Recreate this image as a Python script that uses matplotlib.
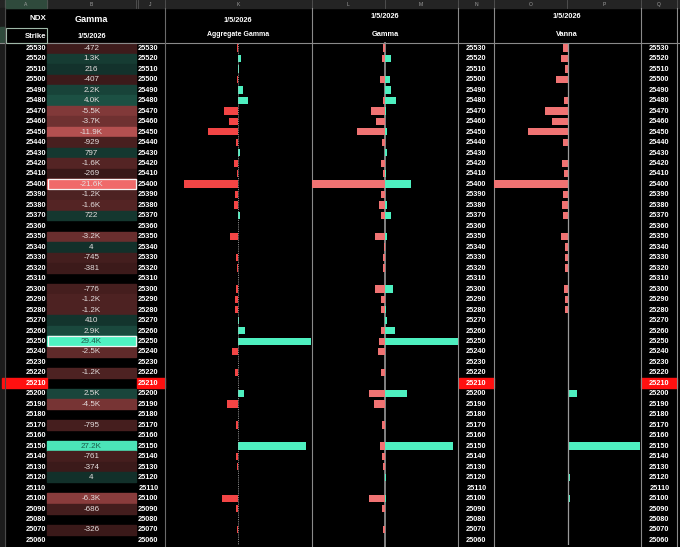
import numpy as np
import matplotlib.pyplot as plt
import matplotlib.colors as mcolors
from matplotlib.patches import Rectangle

plt.rcParams['font.family'] = ['Liberation Sans', 'DejaVu Sans']

# strikes, top to bottom
strikes = [25530, 25520, 25510, 25500, 25490, 25480, 25470, 25460, 25450, 25440,
           25430, 25420, 25410, 25400, 25390, 25380, 25370, 25360, 25350, 25340,
           25330, 25320, 25310, 25300, 25290, 25280, 25270, 25260, 25250, 25240,
           25230, 25220, 25210, 25200, 25190, 25180, 25170, 25160, 25150, 25140,
           25130, 25120, 25110, 25100, 25090, 25080, 25070, 25060]
spot = 25210
date_label = '1/5/2026'
nan = np.nan

# aggregate gamma (column B and the K bars)
gamma = [-472, 1300, 216, -407, 2200, 4000, -5500, -3700, -11900, -929,
         797, -1600, -269, -21600, -1200, -1600, 722, nan, -3200, 4,
         -745, -381, nan, -776, -1200, -1200, 410, 2900, 29400, -2500,
         nan, -1200, nan, 2500, -4500, nan, -795, nan, 27200, -761,
         -374, 4, nan, -6300, -686, nan, -326, nan]

# put / call gamma in K (L and M columns)
put_gamma = [-0.7, -1.1, 0, -2.2, 0, -0.7, -6.0, -3.8, -12.8, -1.1,
             0, -1.8, -0.9, -33.3, -1.8, -2.5, -1.8, 0, -4.3, -0.2,
             -0.9, -0.5, 0, -4.3, -1.5, -1.8, 0, -1.5, -2.5, -2.8,
             0, -1.5, 0, -7.3, -4.6, 0, -1.1, 0, -2.2, -1.1,
             -0.5, 0, 0, -6.9, -1.1, 0, -0.5, 0]
call_gamma = [0, 2.8, 0.4, 2.2, 2.8, 4.9, 0.6, 0, 0.9, 0,
              0.9, 0.4, 0.7, 11.7, 0.4, 0.9, 2.8, 0, 0.9, 0.3,
              0, 0, 0, 3.6, 0, 0.6, 0.9, 4.7, 31.9, 0,
              0, 0, 0, 9.9, 0, 0, 0, 0, 29.7, 0,
              0, 0.8, 0, 0.7, 0, 0, 0, 0]

vanna = [-1.2, -1.5, -0.5, -2.9, 0, -0.8, -5.5, -3.8, -9.9, -1.1,
         0, -1.3, -0.8, -18.3, -1.1, -1.3, -1.1, 0, -1.7, -0.5,
         -0.5, -0.5, 0, -0.9, -0.5, -0.5, 0, 0, 0, 0,
         0, 0, 0, 2.3, 0, 0, 0, 0, 18.1, 0,
         0, 0.5, 0, 0.6, 0, 0, 0, 0]

W, H = 680, 547
TOP, RH = 42.8, 10.47
n = len(strikes)
BOT = TOP + n * RH

RED = '#F24545'
SALMON = '#F07373'
GREEN = '#4EF0C0'
GRID = '#8a8a8a'

fig = plt.figure(figsize=(W / 100, H / 100), dpi=100, facecolor='black')
sheet = fig.add_axes([0, 0, 1, 1])
sheet.set_xlim(0, W)
sheet.set_ylim(H, 0)
sheet.axis('off')
sheet.set_facecolor('black')


def row_y(i):
    return TOP + (i + 0.5) * RH


# column letter band
sheet.add_patch(Rectangle((0, 0), W, 8, color='#242424', zorder=1))
sheet.add_patch(Rectangle((5, 0), 42, 8, color='#2f4a3c', zorder=1))
for x in [5, 47, 136, 138, 165, 312, 385, 458, 494, 567, 641, 677]:
    sheet.plot([x, x], [0, 8], color='#555555', lw=0.6, zorder=2)
col_letters = [('A', 26), ('B', 91), ('J', 150), ('K', 238), ('L', 348),
               ('M', 421), ('N', 476), ('O', 531), ('P', 604), ('Q', 659)]
for letter, xc in col_letters:
    sheet.text(xc, 4.3, letter, color='#a0a0a0', fontsize=3.6, ha='center', va='center', zorder=3)

# row header strip
sheet.add_patch(Rectangle((0, 8), 5, H - 8, color='#1c1c1c', zorder=1))
sheet.add_patch(Rectangle((0, 27), 5, 15, color='#2f4a3c', zorder=1))

# header texts
hdr = dict(color='white', fontweight='bold', va='center', zorder=4)
sheet.text(46, 19, 'NDX', ha='right', fontsize=5.8, **hdr)
sheet.text(46, 36.5, 'Strike', ha='right', fontsize=5.6, **hdr)
sheet.add_patch(Rectangle((5.5, 27.5), 41.5, 15, fill=False, ec='#9fb8a8', lw=0.8, zorder=4))
sheet.text(91.5, 19, 'Gamma', ha='center', fontsize=6.6, **hdr)
sheet.text(91.5, 36.5, date_label, ha='center', fontsize=5.3, **hdr)
sheet.text(238, 20, date_label, ha='center', fontsize=5.3, **hdr)
sheet.text(238, 34, 'Aggregate Gamma', ha='center', fontsize=5.0, **hdr)
sheet.text(385, 16, date_label, ha='center', fontsize=5.3, **hdr)
sheet.text(385, 34, 'Gamma', ha='center', fontsize=5.3, **hdr)
sheet.text(567, 16, date_label, ha='center', fontsize=5.3, **hdr)
sheet.text(567, 34, 'Vanna', ha='center', fontsize=5.3, **hdr)

# grid lines
sheet.plot([0, W], [42.5, 42.5], color=GRID, lw=0.8, zorder=3)
for x, c in [(5, '#4a4a4a'), (165, '#6a6a6a'), (312, GRID), (458, GRID),
             (494, GRID), (641, GRID), (677, GRID)]:
    sheet.plot([x, x], [8, H], color=c, lw=0.8, zorder=3)

# gamma heat cells
vals = np.array(gamma, dtype=float)
gmin, gmax = np.nanmin(vals), np.nanmax(vals)
neg0, neg1 = np.array(mcolors.to_rgb('#2a1212')), np.array(mcolors.to_rgb('#F06a6a'))
pos0, pos1 = np.array(mcolors.to_rgb('#12302a')), np.array(mcolors.to_rgb('#4ff2c2'))


def fmt(v):
    if abs(v) >= 1000:
        return f'{v / 1000:.1f}K'
    return f'{int(v)}'


for i, v in enumerate(vals):
    if np.isnan(v):
        continue
    if v < 0:
        t = (v / gmin) ** 0.6
        c = neg0 + (neg1 - neg0) * t
    else:
        t = (v / gmax) ** 0.9
        c = pos0 + (pos1 - pos0) * t
    sheet.add_patch(Rectangle((47, TOP + i * RH + 0.3), 89, RH - 0.6, color=c, zorder=2))
    lum = 0.3 * c[0] + 0.59 * c[1] + 0.11 * c[2]
    tc = '#1c5a4a' if (lum > 0.6 and v > 0) else '#e4dede'
    sheet.text(91.5, row_y(i) + 0.3, fmt(v), color=tc, fontsize=5.8,
               ha='center', va='center', zorder=4)
    if v == gmin or v == gmax:
        sheet.add_patch(Rectangle((47.5, TOP + i * RH + 0.5), 88, RH - 1,
                                  fill=False, ec='#f4f4f4', lw=0.9, zorder=4))

# strike columns
strike_cols = [(2, 47, 45.8), (137, 165, 158.5), (459, 494, 486.5), (641, 677, 669.5)]
for i, s in enumerate(strikes):
    for x0, x1, xr in strike_cols:
        if s == spot:
            sheet.add_patch(Rectangle((x0, TOP + i * RH + 0.4), x1 - x0, RH - 0.8,
                                      color='#FF1010', zorder=2))
        sheet.text(xr, row_y(i) + 0.3, str(s), color='white', fontsize=5.3,
                   fontweight='bold', ha='right', va='center', zorder=4)


# bar panels
def panel(x0, x1):
    ax = fig.add_axes([x0 / W, 1 - BOT / H, (x1 - x0) / W, (BOT - TOP) / H])
    ax.set_ylim(strikes[-1] - 5, strikes[0] + 5)
    ax.axis('off')
    ax.patch.set_alpha(0)
    return ax


bar_h = 7.0

agg = np.nan_to_num(vals) / 1000
ax_k = panel(165, 311)
m = np.max(np.abs(agg))
ax_k.set_xlim(-m, m)
ax_k.barh(strikes, agg, height=bar_h, color=[RED if v < 0 else GREEN for v in agg])
ax_k.axvline(0, color='#b0b0b0', lw=0.6, ls=(0, (1, 1.2)))

ax_l = panel(312, 384.5)
ax_l.set_xlim(min(put_gamma), 0)
ax_l.barh(strikes, put_gamma, height=bar_h, color=SALMON)

ax_m = panel(384.5, 458)
ax_m.set_xlim(0, max(call_gamma))
ax_m.barh(strikes, call_gamma, height=bar_h, color=GREEN)
sheet.plot([384.5, 384.5], [TOP, H], color='#8c8c8c', lw=1.3, zorder=5)

ax_v = panel(494, 641)
vm = np.max(np.abs(vanna))
ax_v.set_xlim(-vm, vm)
ax_v.barh(strikes, vanna, height=bar_h, color=[SALMON if v < 0 else GREEN for v in vanna])
ax_v.axvline(0, color='#9a9a9a', lw=0.9)

fig.savefig('out.png', dpi=100, facecolor='black')
